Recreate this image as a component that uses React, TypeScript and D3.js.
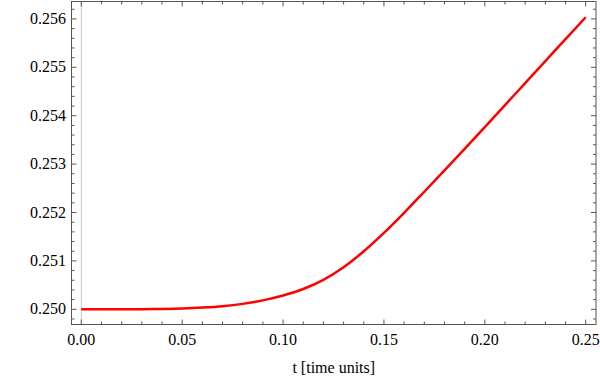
import React, { useEffect, useRef } from "react";
import * as d3 from "d3";

const times = [
  0, 0.01, 0.02, 0.03, 0.04, 0.05, 0.06, 0.07, 0.08, 0.09, 0.1, 0.11, 0.12,
  0.13, 0.14, 0.15, 0.16, 0.17, 0.18, 0.19, 0.2, 0.21, 0.22, 0.23, 0.24, 0.25,
];
const values = [
  0.25, 0.25, 0.250001, 0.250003, 0.250008, 0.250017, 0.250035, 0.250063,
  0.250112, 0.250184, 0.250284, 0.250419, 0.250609, 0.250869, 0.251199,
  0.251579, 0.251994, 0.252429, 0.252869, 0.253314, 0.253764, 0.254219,
  0.254674, 0.255129, 0.255584, 0.256035,
];
const xMajor = [0, 0.05, 0.1, 0.15, 0.2, 0.25];
const yMajor = [0.25, 0.251, 0.252, 0.253, 0.254, 0.255, 0.256];
const xLabel = "t [time units]";

const App = () => {
  const svgRef = useRef<SVGSVGElement>(null);

  useEffect(() => {
    const width = 600;
    const height = 378;
    const frame = { left: 71.5, right: 596, top: 1.5, bottom: 324.5 };
    const frameColor = "#555";
    const font = "Liberation Serif, serif";

    const svg = d3.select(svgRef.current);
    svg.selectAll("*").remove();
    svg.attr("width", width).attr("height", height);

    const x = d3
      .scaleLinear()
      .domain([-0.00486, 0.2551])
      .range([frame.left, frame.right]);
    const y = d3
      .scaleLinear()
      .domain([0.249686, 0.25636])
      .range([frame.bottom, frame.top]);

    // vertical axis at t = 0
    svg
      .append("line")
      .attr("x1", x(0))
      .attr("x2", x(0))
      .attr("y1", frame.top)
      .attr("y2", frame.bottom)
      .attr("stroke", "#c8c8c8")
      .attr("stroke-width", 1);

    const xMinor = d3.range(0, 26).map((i) => i / 100);
    const yMinor = d3.range(0, 33).map((i) => 0.2498 + i * 0.0002);

    const ticks = svg.append("g").attr("stroke", frameColor).attr("stroke-width", 1);
    xMinor.forEach((t) => {
      const major = xMajor.some((m) => Math.abs(m - t) < 1e-9);
      const len = major ? 5 : 3;
      const px = x(t);
      ticks.append("line").attr("x1", px).attr("x2", px).attr("y1", frame.bottom).attr("y2", frame.bottom - len);
      ticks.append("line").attr("x1", px).attr("x2", px).attr("y1", frame.top).attr("y2", frame.top + len);
    });
    yMinor.forEach((v) => {
      if (v < y.domain()[0] || v > y.domain()[1]) return;
      const major = yMajor.some((m) => Math.abs(m - v) < 1e-9);
      const len = major ? 5 : 3;
      const py = y(v);
      ticks.append("line").attr("x1", frame.left).attr("x2", frame.left + len).attr("y1", py).attr("y2", py);
      ticks.append("line").attr("x1", frame.right).attr("x2", frame.right - len).attr("y1", py).attr("y2", py);
    });

    svg
      .append("rect")
      .attr("x", frame.left)
      .attr("y", frame.top)
      .attr("width", frame.right - frame.left)
      .attr("height", frame.bottom - frame.top)
      .attr("fill", "none")
      .attr("stroke", frameColor)
      .attr("stroke-width", 1);

    svg
      .append("g")
      .selectAll("text")
      .data(xMajor)
      .enter()
      .append("text")
      .attr("x", (d) => x(d))
      .attr("y", 344.5)
      .attr("text-anchor", "middle")
      .attr("font-family", font)
      .attr("font-size", 16)
      .attr("fill", "#000")
      .text((d) => d3.format(".2f")(d));

    svg
      .append("g")
      .selectAll("text")
      .data(yMajor)
      .enter()
      .append("text")
      .attr("x", 66)
      .attr("y", (d) => y(d) + 5)
      .attr("text-anchor", "end")
      .attr("font-family", font)
      .attr("font-size", 16)
      .attr("fill", "#000")
      .text((d) => d3.format(".3f")(d));

    svg
      .append("text")
      .attr("x", (frame.left + frame.right) / 2)
      .attr("y", 373)
      .attr("text-anchor", "middle")
      .attr("font-family", font)
      .attr("font-size", 16)
      .attr("fill", "#000")
      .text(xLabel);

    const line = d3
      .line<number>()
      .x((d, i) => x(times[i]))
      .y((d) => y(d))
      .curve(d3.curveMonotoneX);

    svg
      .append("path")
      .datum(values)
      .attr("d", line)
      .attr("fill", "none")
      .attr("stroke", "#ff0000")
      .attr("stroke-width", 2.5)
      .attr("stroke-linejoin", "round");
  }, []);

  return (
    <svg
      ref={svgRef}
      style={{ position: "absolute", left: 0, top: 0, display: "block" }}
    ></svg>
  );
};

export default App;
